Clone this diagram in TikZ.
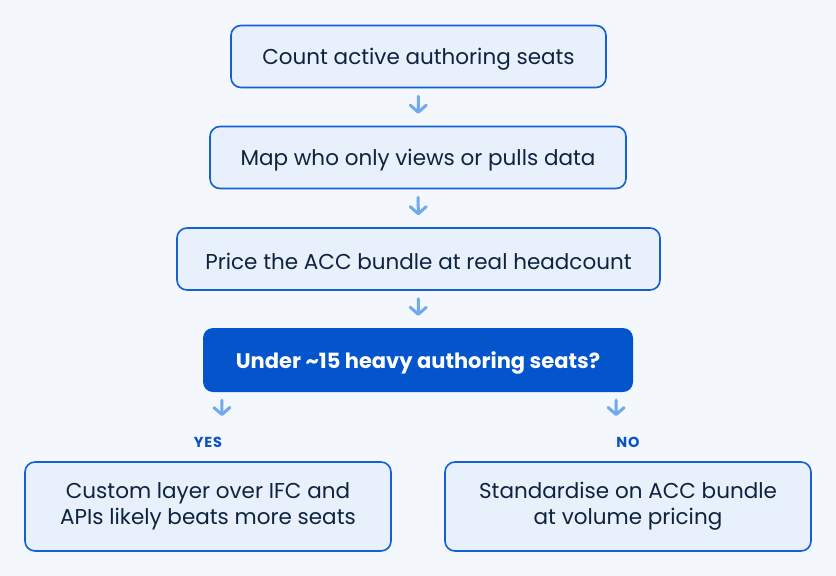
\documentclass[tikz,border=0pt]{standalone}
\usepackage{fontspec}
\setmainfont{Poppins}
\usetikzlibrary{arrows.meta, positioning}
\definecolor{bg}{HTML}{F4F7FC}
\definecolor{boxfill}{HTML}{E7F0FB}
\definecolor{boxline}{HTML}{1260D2}
\definecolor{decfill}{HTML}{0455CB}
\definecolor{ink}{HTML}{0F2341}
\definecolor{arrowblue}{HTML}{6FAAEE}
\definecolor{labelblue}{HTML}{0B52C4}

\tikzset{
  stepbox/.style={draw=boxline, line width=1.6pt, fill=boxfill, rounded corners=10pt,
    text=ink, font=\fontsize{21.5}{26}\selectfont, align=center, minimum height=62pt,
    execute at begin node={\rule{0pt}{22pt}}},
  decbox/.style={fill=decfill, rounded corners=10pt, text=white,
    font=\fontsize{21}{26}\selectfont\bfseries, minimum height=64pt,
    execute at begin node={\rule{0pt}{22pt}}},
  flowarrow/.style={draw=arrowblue, line width=3pt, line cap=round,
    -{Straight Barb[length=7pt,width=16pt,round]}},
  answer/.style={text=labelblue, font=\fontsize{14.5}{16}\selectfont\bfseries\addfontfeatures{LetterSpace=6}}
}

\begin{document}
\begin{tikzpicture}[x=1pt, y=-1pt]
    % background and page size
    \fill[bg] (0,0) rectangle (836,576);
    \useasboundingbox (0,0) rectangle (836,576);

    % the steps, top to bottom
    \node[stepbox, minimum width=375pt] (count) at (418.5,56.5) {Count active authoring seats};
    \node[stepbox, minimum width=416pt] (map) at (418,157.5) {Map who only views or pulls data};
    \node[stepbox, minimum width=483pt] (price) at (418.5,259) {Price the ACC bundle at real headcount};

    % the question
    \node[decbox, minimum width=430pt] (under) at (418,360) {Under \textasciitilde15 heavy authoring seats?};

    % the two outcomes
    \node[stepbox, minimum width=366pt, minimum height=89pt] (custom) at (208,506.5)
        {Custom layer over IFC and\\APIs likely beats more seats};
    \node[stepbox, minimum width=366pt, minimum height=89pt] (standard) at (628,506.5)
        {Standardise on ACC bundle\\at volume pricing};

    % answer labels
    \node[answer] (yes) at (208,442) {YES};
    \node[answer] (no) at (628,442) {NO};

    % arrows between the steps
    \draw[flowarrow, shorten <=8pt, shorten >=12pt] (count) -- (map);
    \draw[flowarrow, shorten <=8pt, shorten >=12pt] (map) -- (price);
    \draw[flowarrow, shorten <=8pt, shorten >=12pt] (price) -- (under);

    % arrows out of the question
    \coordinate (yesend) at (222,416);
    \coordinate (noend) at (616,416);
    \draw[flowarrow] ([xshift=19pt, yshift=-8pt]under.south west) -- (yesend);
    \draw[flowarrow] ([xshift=-17pt, yshift=-8pt]under.south east) -- (noend);
\end{tikzpicture}
\end{document}
